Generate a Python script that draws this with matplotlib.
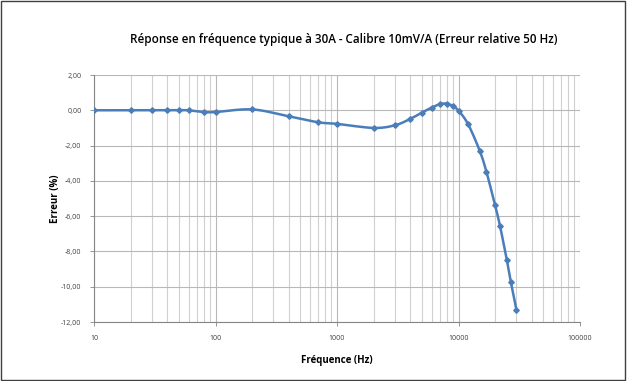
import numpy as np
import matplotlib.pyplot as plt
from matplotlib.ticker import FixedLocator, FuncFormatter, LogLocator, NullFormatter

# Data
freq = [10, 20, 30, 40, 50, 60, 80, 100, 200, 400, 700, 1000, 2000, 3000, 4000,
        5000, 6000, 7000, 8000, 9000, 10000, 12000, 15000, 17000, 20000, 22000,
        25000, 27000, 30000]
err = [0.00, 0.00, 0.00, 0.00, 0.00, 0.00, -0.10, -0.10, 0.05, -0.34, -0.68, -0.77,
       -1.00, -0.85, -0.49, -0.13, 0.15, 0.34, 0.38, 0.23, -0.02, -0.79, -2.32,
       -3.50, -5.38, -6.58, -8.49, -9.75, -11.32]

title = "Réponse en fréquence typique à 30A - Calibre 10mV/A (Erreur relative 50 Hz)"
xlabel = "Fréquence (Hz)"
ylabel = "Erreur (%)"
yticks = [2, 0, -2, -4, -6, -8, -10, -12]
xticks = [10, 100, 1000, 10000, 100000]

plt.rcParams['font.family'] = ['Open Sans', 'DejaVu Sans']


def smooth(x, y, n=20):
    # Catmull-Rom in log-x space, similar to Excel's smoothed line
    lx = np.log10(x)
    y = np.asarray(y, float)
    px = np.concatenate([[2 * lx[0] - lx[1]], lx, [2 * lx[-1] - lx[-2]]])
    py = np.concatenate([[2 * y[0] - y[1]], y, [2 * y[-1] - y[-2]]])
    ox, oy = [], []
    for i in range(1, len(px) - 2):
        t = np.linspace(0, 1, n, endpoint=False)
        for p, o in ((px, ox), (py, oy)):
            p0, p1, p2, p3 = p[i - 1], p[i], p[i + 1], p[i + 2]
            o.extend(0.5 * (2 * p1 + (-p0 + p2) * t + (2 * p0 - 5 * p1 + 4 * p2 - p3) * t ** 2
                            + (-p0 + 3 * p1 - 3 * p2 + p3) * t ** 3))
    ox.append(lx[-1])
    oy.append(y[-1])
    return 10 ** np.array(ox), np.array(oy)


fig = plt.figure(figsize=(6.27, 3.81), dpi=100)
ax = fig.add_axes([94 / 627, 1 - 322 / 381, (580 - 94) / 627, (322 - 75) / 381])

sx, sy = smooth(freq, err)
ax.plot(sx, sy, color='#4a7ebb', lw=1.8, zorder=3)
ax.plot(freq, err, ls='none', marker='D', ms=2.8, color='#4a7ebb', zorder=4)

ax.set_xscale('log')
ax.set_xlim(10, 100000)
ax.set_ylim(-12, 2)
ax.xaxis.set_major_locator(FixedLocator(xticks))
ax.xaxis.set_minor_locator(LogLocator(base=10, subs=np.arange(2, 10)))
ax.xaxis.set_minor_formatter(NullFormatter())
ax.xaxis.set_major_formatter(FuncFormatter(lambda v, p: f"{v:.0f}"))
ax.yaxis.set_major_locator(FixedLocator(yticks))
ax.yaxis.set_major_formatter(FuncFormatter(lambda v, p: f"{v:.2f}".replace('.', ',')))

ax.grid(True, which='major', axis='both', color='#b8b8b8', lw=0.8)
ax.grid(True, which='minor', axis='x', color='#d0d0d0', lw=0.8)
ax.set_axisbelow(True)
for s in ['top', 'right']:
    ax.spines[s].set_visible(False)
for s in ['left', 'bottom']:
    ax.spines[s].set_color('#868686')
    ax.spines[s].set_linewidth(0.8)
ax.tick_params(axis='both', which='both', labelsize=5, colors='#868686', labelcolor='#404040',
               length=3, width=0.6)
ax.tick_params(axis='x', which='minor', length=0)
ax.tick_params(axis='y', pad=6)
ax.tick_params(axis='x', pad=6)

ax.set_xlabel(xlabel, fontsize=7, fontweight='bold', labelpad=10)
ax.set_ylabel(ylabel, fontsize=7, fontweight='bold', labelpad=0)
fig.text(344 / 627, 1 - 40 / 381, title, ha='center', va='center', fontsize=8.4,
         fontweight='semibold')

# outer frame of the chart
fig.patches.append(plt.Rectangle((0.002, 0.003), 0.995, 0.994, transform=fig.transFigure,
                                 fill=False, ec='#404040', lw=1.0))

fig.savefig('out.png', dpi=100)
